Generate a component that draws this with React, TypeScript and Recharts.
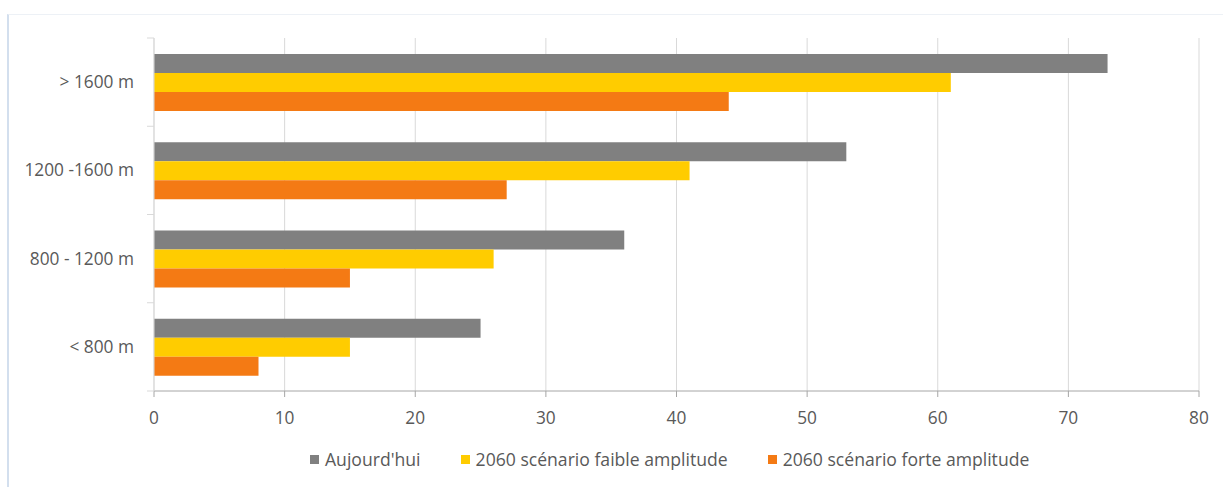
import {
  BarChart,
  Bar,
  XAxis,
  YAxis,
  CartesianGrid,
  Legend,
} from 'recharts';

const altitudes = ['> 1600 m', '1200 -1600 m', '800 - 1200 m', '< 800 m'];
const today = [73, 53, 36, 25];
const lowScenario = [61, 41, 26, 15];
const highScenario = [44, 27, 15, 8];
const xTicks = [0, 10, 20, 30, 40, 50, 60, 70, 80];

const series = [
  { key: 'today', name: "Aujourd'hui", color: '#808080' },
  { key: 'low', name: '2060 scénario faible amplitude', color: '#FFCC00' },
  { key: 'high', name: '2060 scénario forte amplitude', color: '#F47A14' },
];

const FONT = '"Open Sans", sans-serif';
const TEXT = '#595959';
const GRID = '#D9D9D9';
const AXIS = '#A6A6A6';

const data = altitudes.map((label, i) => ({
  label,
  today: today[i],
  low: lowScenario[i],
  high: highScenario[i],
}));

// category labels plus the small marks Excel puts between categories
function AltitudeTick(props: any) {
  const { x, y, payload, index } = props;
  const half = payload?.offset ?? 44;
  const axisX = x + 20;
  return (
    <g>
      <line x1={axisX - 7} x2={axisX} y1={y - half} y2={y - half} stroke={GRID} />
      {index === altitudes.length - 1 && (
        <line x1={axisX - 7} x2={axisX} y1={y + half} y2={y + half} stroke={GRID} />
      )}
      <text
        x={x}
        y={y}
        dy="0.35em"
        textAnchor="end"
        fill={TEXT}
        fontSize={17.3}
        fontFamily={FONT}
      >
        {payload.value}
      </text>
    </g>
  );
}

function LegendRow() {
  return (
    <div style={{ display: 'flex', alignItems: 'center', fontFamily: FONT, fontSize: 17.6, color: TEXT }}>
      {series.map((s) => (
        <div key={s.key} style={{ display: 'flex', alignItems: 'center', marginRight: 40 }}>
          <span style={{ width: 9, height: 9, background: s.color, marginRight: 6, display: 'inline-block' }} />
          <span style={{ whiteSpace: 'nowrap' }}>{s.name}</span>
        </div>
      ))}
    </div>
  );
}

export default function App() {
  return (
    <div style={{ position: 'absolute', left: 0, top: 0, width: 1223, height: 487, background: '#fff', overflow: 'hidden' }}>
      <div
        style={{
          position: 'absolute',
          left: 7,
          top: 14,
          width: 1240,
          height: 490,
          borderTop: '1px solid #EDF1F6',
          borderLeft: '2px solid #D3DFEE',
        }}
      />
      <div style={{ position: 'absolute', left: 0, top: 0 }}>
        <BarChart
          width={1223}
          height={487}
          layout="vertical"
          data={data}
          margin={{ top: 38, right: 24, left: 8, bottom: 66 }}
          barGap={0}
          barCategoryGap={16}
        >
          <CartesianGrid horizontal={false} stroke={GRID} />
          <XAxis
            type="number"
            domain={[0, 80]}
            ticks={xTicks}
            interval={0}
            height={30}
            axisLine={{ stroke: AXIS }}
            tickLine={{ stroke: AXIS }}
            tickSize={6}
            tickMargin={15}
            tick={{ fill: TEXT, fontSize: 17.3, fontFamily: FONT }}
          />
          <YAxis
            type="category"
            dataKey="label"
            width={146}
            axisLine={{ stroke: GRID }}
            tickLine={false}
            tickSize={6}
            tickMargin={14}
            tick={<AltitudeTick />}
          />
          <Legend
            layout="horizontal"
            verticalAlign="middle"
            align="center"
            content={() => <LegendRow />}
            wrapperStyle={{ top: 447, left: 310, width: 900, height: 22 }}
          />
          {series.map((s) => (
            <Bar
              key={s.key}
              dataKey={s.key}
              name={s.name}
              fill={s.color}
              isAnimationActive={false}
            />
          ))}
        </BarChart>
      </div>
    </div>
  );
}
